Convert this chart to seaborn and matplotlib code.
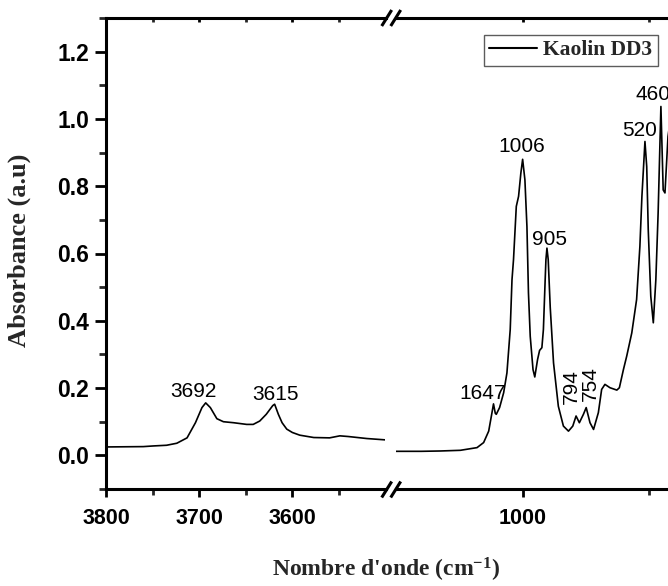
import numpy as np
import pandas as pd
import matplotlib
matplotlib.use("Agg")
import matplotlib.pyplot as plt
import seaborn as sns

# ---------------- data ----------------
wn_high = [3800, 3760, 3749, 3735, 3724, 3713, 3704, 3697, 3693, 3688, 3681, 3674,
           3663, 3649, 3642, 3635, 3628, 3621, 3619, 3615, 3611, 3606, 3600, 3592,
           3577, 3560, 3549, 3540, 3520, 3500]
abs_high = [0.025, 0.026, 0.028, 0.030, 0.036, 0.052, 0.097, 0.142, 0.156, 0.142, 0.109, 0.100,
            0.097, 0.092, 0.092, 0.102, 0.122, 0.148, 0.152, 0.122, 0.097, 0.078, 0.068, 0.060,
            0.053, 0.052, 0.058, 0.056, 0.050, 0.046]

wn_low = [1500, 1400, 1325, 1246, 1180, 1154, 1134, 1121, 1115, 1108, 1104, 1091, 1075,
          1062, 1049, 1042, 1036, 1025, 1016, 1007, 1000, 991, 983, 977, 970, 959, 952,
          941, 933, 924, 918, 911, 908, 904, 899, 891, 878, 859, 839, 819, 802, 789, 776,
          760, 749, 734, 720, 701, 688, 675, 655, 628, 618, 602, 589, 569, 550, 537, 529,
          517, 510, 504, 494, 484, 474, 465, 454, 445, 438, 431, 426, 420]
abs_low = [0.012, 0.012, 0.013, 0.015, 0.023, 0.038, 0.072, 0.127, 0.153, 0.125, 0.122, 0.142, 0.186,
           0.245, 0.374, 0.522, 0.582, 0.740, 0.770, 0.839, 0.880, 0.819, 0.680, 0.483, 0.354, 0.255, 0.233,
           0.285, 0.312, 0.320, 0.374, 0.522, 0.582, 0.616, 0.582, 0.440, 0.275, 0.146, 0.087, 0.072, 0.087, 0.117, 0.097,
           0.122, 0.142, 0.097, 0.077, 0.127, 0.196, 0.211, 0.201, 0.194, 0.201, 0.255, 0.295, 0.364, 0.463, 0.621, 0.770,
           0.933, 0.858, 0.671, 0.473, 0.394, 0.522, 0.720, 1.037, 0.789, 0.780, 0.878, 0.948, 0.980]

series_name = "Kaolin DD3"

peak_labels_high = ["3692", "3615"]
peak_pos_high = [(3706, 0.172), (3618, 0.166)]
peak_labels_low = ["1647", "1006", "905", "520", "460"]
peak_pos_low = [(1158, 0.168), (1002, 0.903), (894, 0.626), (537, 0.948), (485, 1.056)]
rot_labels_low = ["794", "754"]
rot_pos_low = [(808, 0.204), (731, 0.213)]

xlabel = "Nombre d'onde (cm$^{-1}$)"
ylabel = "Absorbance (a.u)"

# ---------------- style ----------------
sns.set_theme(style="ticks")
plt.rcParams["font.family"] = ["Liberation Sans", "DejaVu Sans"]
plt.rcParams["mathtext.fontset"] = "custom"
plt.rcParams["mathtext.rm"] = "Liberation Serif:bold"
plt.rcParams["mathtext.bf"] = "Liberation Serif:bold"
plt.rcParams["mathtext.default"] = "bf"

W, H = 668, 586
fig = plt.figure(figsize=(W / 100, H / 100), dpi=100)
fig.patch.set_facecolor("white")

bot = (H - 489) / H
top = (H - 18) / H
ax1 = fig.add_axes([106 / W, bot, (385.5 - 106) / W, top - bot])
ax2 = fig.add_axes([396 / W, bot, (W - 396) / W, top - bot])

df_high = pd.DataFrame({"wn": wn_high, "A": abs_high})
df_low = pd.DataFrame({"wn": wn_low, "A": abs_low})
sns.lineplot(data=df_high, x="wn", y="A", ax=ax1, color="black", lw=1.2,
             estimator=None, sort=False, label=series_name, legend=False)
sns.lineplot(data=df_low, x="wn", y="A", ax=ax2, color="black", lw=1.2,
             estimator=None, sort=False, label=series_name, legend=False)

ax1.set_xlim(3800, 3500)
ax2.set_xlim(1500, 426)
for ax in (ax1, ax2):
    ax.set_ylim(-0.1, 1.3)
    ax.set_xlabel("")
    ax.set_ylabel("")
    ax.set_facecolor("white")
    for s in ax.spines.values():
        s.set_linewidth(2.2)
        s.set_color("black")

ax1.spines["right"].set_visible(False)
ax2.spines["left"].set_visible(False)
ax2.spines["right"].set_visible(False)

# ticks
ax1.set_xticks([3800, 3700, 3600])
ax1.set_xticks([3750, 3650, 3550], minor=True)
ax2.set_xticks([1000])
ax2.set_xticks([500], minor=True)
ax1.set_yticks(np.arange(0, 1.21, 0.2))
ax1.set_yticks(np.arange(-0.1, 1.31, 0.1), minor=True)
ax2.set_yticks([])
ax2.tick_params(axis="y", which="both", left=False, labelleft=False)

for ax in (ax1, ax2):
    ax.tick_params(axis="x", which="major", direction="out", length=6, width=2,
                   bottom=True, top=True, labelsize=15.5, pad=8, colors="black")
    ax.tick_params(axis="x", which="minor", direction="out", length=4, width=2,
                   bottom=True, top=True)

ax1.tick_params(axis="y", which="major", direction="out", length=8, width=2,
                labelsize=16.5, pad=4, colors="black")
ax1.tick_params(axis="y", which="minor", direction="out", length=5, width=2)
ax1.set_yticklabels([f"{v:.1f}" for v in np.arange(0, 1.21, 0.2)], fontweight="bold")
ax1.set_xticklabels(["3800", "3700", "3600"], fontweight="bold")
ax2.set_xticklabels(["1000"], fontweight="bold")
# top ticks go inward and are short
for ax in (ax1, ax2):
    for t in ax.xaxis.get_major_ticks() + ax.xaxis.get_minor_ticks():
        t.tick2line.set_markersize(3)
        t.tick2line.set_marker(3)  # TICKDOWN

# peak annotations
for lab, (x, y) in zip(peak_labels_high, peak_pos_high):
    ax1.text(x, y, lab, ha="center", va="baseline", fontsize=15, color="black")
for lab, (x, y) in zip(peak_labels_low, peak_pos_low):
    ax2.text(x, y, lab, ha="center", va="baseline", fontsize=15, color="black")
for lab, (x, y) in zip(rot_labels_low, rot_pos_low):
    ax2.text(x, y, lab, ha="center", va="center", rotation=90, fontsize=15, color="black")

# legend
leg = fig.legend(handles=ax2.get_lines()[:1], labels=[series_name],
                 loc="upper left", bbox_to_anchor=(484 / W, 1 - 35 / H),
                 bbox_transform=fig.transFigure, frameon=True, fancybox=False,
                 borderpad=0.25, handlelength=2.2, handletextpad=0.3, borderaxespad=0,
                 prop={"family": "Liberation Serif", "weight": "bold", "size": 15.5})
leg.get_frame().set_edgecolor("#333333")
leg.get_frame().set_linewidth(1.0)
for l in leg.get_lines():
    l.set_linewidth(1.5)

# axis labels
fig.text(386 / W, 1 - 570 / H, xlabel, ha="center", va="center",
         fontsize=17, fontweight="bold", family="Liberation Serif")
fig.text(19 / W, 1 - 250 / H, ylabel, ha="center", va="center", rotation=90,
         fontsize=19, fontweight="bold", family="Liberation Serif")

# axis-break marks
for yc in (18, 489.5):
    for xc in (386.7, 395.7):
        fig.add_artist(plt.Line2D([(xc - 5) / W, (xc + 5) / W],
                                  [1 - (yc + 8) / H, 1 - (yc - 8) / H],
                                  transform=fig.transFigure, color="black", lw=2.2,
                                  solid_capstyle="butt"))

fig.savefig("out.png", dpi=100, facecolor="white")
